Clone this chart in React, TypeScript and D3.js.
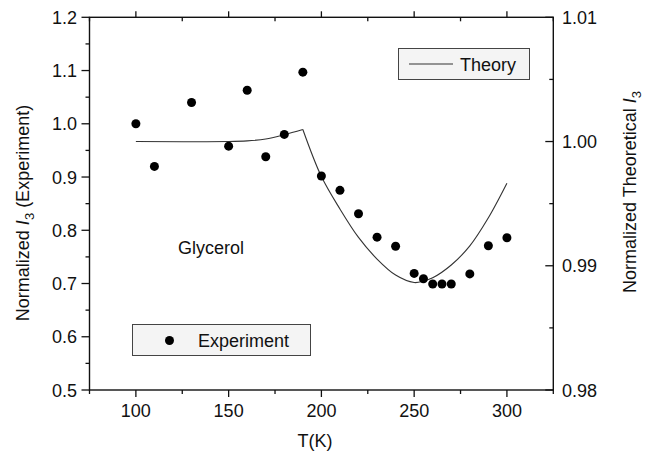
import React from "react";
import * as d3 from "d3";

const expT = [100, 110, 130, 150, 160, 170, 180, 190, 200, 210, 220, 230, 240, 250, 255, 260, 265, 270, 280, 290, 300];
const expV = [1.0, 0.92, 1.04, 0.958, 1.063, 0.938, 0.98, 1.097, 0.902, 0.875, 0.831, 0.787, 0.77, 0.719, 0.709, 0.699, 0.699, 0.699, 0.718, 0.771, 0.786];

const theoryT = [100, 150, 160, 170, 180, 190, 200, 210, 220, 230, 240, 250, 255, 260, 270, 280, 290, 300];
const theoryV = [1.0, 1.0, 1.00005, 1.0002, 1.00055, 1.00097, 0.99718, 0.99457, 0.99228, 0.99054, 0.98925, 0.98865, 0.98876, 0.98903, 0.99006, 0.9916, 0.99386, 0.99664];

const xMajor = [100, 150, 200, 250, 300];
const xMinor = [75, 125, 175, 225, 275, 325];
const yLeftMajor = [0.5, 0.6, 0.7, 0.8, 0.9, 1.0, 1.1, 1.2];
const yLeftMinor = [0.55, 0.65, 0.75, 0.85, 0.95, 1.05, 1.15];
const yRightMajor = [0.98, 0.99, 1.0, 1.01];
const yRightMinor = [0.985, 0.995, 1.005];

const W = 652;
const H = 455;
const L = 89.5;
const R = 553.3;
const T = 17.3;
const B = 390;
const FONT = "'Liberation Sans', Arial, sans-serif";
const FS = 18;

export default function App() {
  const x = d3.scaleLinear().domain([75, 325]).range([L, R]);
  const yL = d3.scaleLinear().domain([0.5, 1.2]).range([B, T]);
  const yR = d3.scaleLinear().domain([0.98, 1.01]).range([B, T]);

  const theory = theoryT.map((t, i) => [t, theoryV[i]] as [number, number]);
  const peakIdx = d3.maxIndex(theoryV);
  const seg1 = theory.slice(0, peakIdx + 1);
  const seg2 = theory.slice(peakIdx);
  const line = d3
    .line<[number, number]>()
    .x((d) => x(d[0]))
    .y((d) => yR(d[1]))
    .curve(d3.curveCatmullRom.alpha(0.5));

  const txt = { fontFamily: FONT, fontSize: FS, fill: "#111" } as const;

  return (
    <svg width={W} height={H} style={{ position: "absolute", left: 0, top: 0, background: "#fff" }}>
      <rect x={0} y={0} width={W} height={H} fill="#fff" />
      {/* frame */}
      <rect x={L} y={T} width={R - L} height={B - T} fill="none" stroke="#111" strokeWidth={1.4} />

      {/* bottom / top axis ticks */}
      {xMajor.map((v) => (
        <g key={"xb" + v}>
          <line x1={x(v)} x2={x(v)} y1={B} y2={B + 7} stroke="#111" strokeWidth={1.3} />
          <text x={x(v)} y={417} textAnchor="middle" {...txt}>
            {v}
          </text>
          <line x1={x(v)} x2={x(v)} y1={T} y2={T - 6} stroke="#111" strokeWidth={1.3} />
        </g>
      ))}
      {xMinor.map((v) => (
        <g key={"xm" + v}>
          <line x1={x(v)} x2={x(v)} y1={B} y2={B + 4} stroke="#111" strokeWidth={1.3} />
          <line x1={x(v)} x2={x(v)} y1={T} y2={T + 4} stroke="#111" strokeWidth={1.3} />
        </g>
      ))}

      {/* left axis */}
      {yLeftMajor.map((v) => (
        <g key={"yl" + v}>
          <line x1={L} x2={L - 8} y1={yL(v)} y2={yL(v)} stroke="#111" strokeWidth={1.3} />
          <text x={77} y={yL(v) + 6.5} textAnchor="end" {...txt}>
            {v.toFixed(1)}
          </text>
        </g>
      ))}
      {yLeftMinor.map((v) => (
        <line key={"ylm" + v} x1={L} x2={L - 4} y1={yL(v)} y2={yL(v)} stroke="#111" strokeWidth={1.3} />
      ))}

      {/* right axis */}
      {yRightMajor.map((v) => (
        <g key={"yr" + v}>
          <line x1={R} x2={R - 8} y1={yR(v)} y2={yR(v)} stroke="#111" strokeWidth={1.3} />
          <text x={562} y={yR(v) + 6.5} textAnchor="start" {...txt}>
            {v.toFixed(2)}
          </text>
        </g>
      ))}
      {yRightMinor.map((v) => (
        <line key={"yrm" + v} x1={R} x2={R - 4} y1={yR(v)} y2={yR(v)} stroke="#111" strokeWidth={1.3} />
      ))}

      {/* axis titles */}
      <text x={315} y={447} textAnchor="middle" {...txt}>
        T(K)
      </text>
      <text transform={`translate(29,213) rotate(-90)`} textAnchor="middle" {...txt}>
        Normalized <tspan fontStyle="italic">I</tspan>
        <tspan fontSize={13} dy={5}>3</tspan>
        <tspan dy={-5}> (Experiment)</tspan>
      </text>
      <text transform={`translate(636,192) rotate(-90)`} textAnchor="middle" {...txt}>
        Normalized Theoretical <tspan fontStyle="italic">I</tspan>
        <tspan fontSize={13} dy={5}>3</tspan>
      </text>

      {/* theory line */}
      <path d={line(seg1) ?? ""} fill="none" stroke="#333" strokeWidth={1.1} />
      <path d={line(seg2) ?? ""} fill="none" stroke="#333" strokeWidth={1.1} />

      {/* experiment points */}
      {expT.map((t, i) => (
        <circle key={"p" + i} cx={x(t)} cy={yL(expV[i])} r={4.5} fill="#000" />
      ))}

      {/* Glycerol label */}
      <text x={178} y={254} {...txt}>
        Glycerol
      </text>

      {/* Theory legend */}
      <rect x={398.5} y={48.5} width={131} height={31} fill="#f4f4f4" stroke="#444" strokeWidth={1} />
      <line x1={409} x2={453} y1={64} y2={64} stroke="#333" strokeWidth={1.1} />
      <text x={460} y={70.5} {...txt}>
        Theory
      </text>

      {/* Experiment legend */}
      <rect x={132.5} y={324.5} width={178} height={31} fill="#f4f4f4" stroke="#444" strokeWidth={1} />
      <circle cx={169.5} cy={340.5} r={4.5} fill="#000" />
      <text x={198} y={347} {...txt}>
        Experiment
      </text>
    </svg>
  );
}
